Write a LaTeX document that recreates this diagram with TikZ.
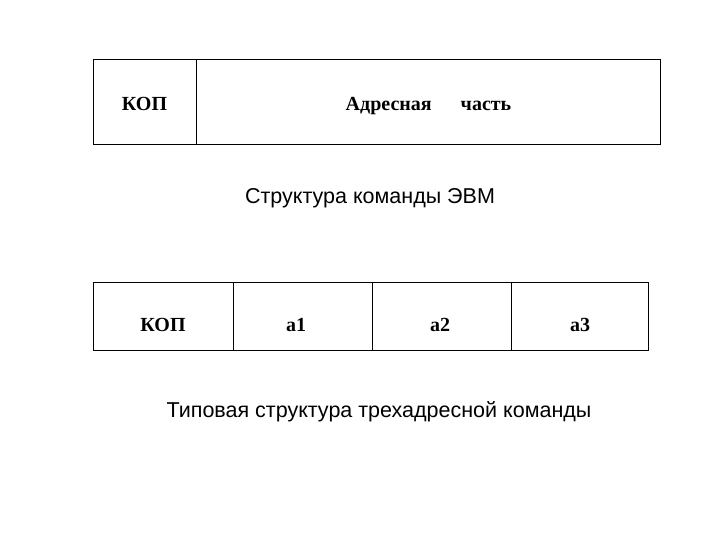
\documentclass[tikz,border=0pt]{standalone}
\usepackage{fontspec}
\setmainfont{Liberation Serif}
\newfontfamily\capfont{Liberation Sans}
\begin{document}
\begin{tikzpicture}[x=1pt,y=-1pt,
  cell/.style={draw=black,line width=1pt,inner sep=0pt,outer sep=0pt},
  lbl/.style={font=\fontsize{20}{24}\selectfont\bfseries,anchor=base,inner sep=0pt},
  captext/.style={font=\capfont\fontsize{21.5}{25}\selectfont,anchor=base,inner sep=0pt}]
\useasboundingbox (0,0) rectangle (720,540);
% top box
\node[cell,minimum width=103pt,minimum height=85pt] (kopA) at (144.5,102.5) {};
\node[cell,minimum width=464pt,minimum height=85pt] (addr) at (428,102.5) {};
\node[lbl] (tkop) at (144.5,111) {КОП};
\node[lbl] (taddr) at (428.5,111) {Адресная\hspace{29pt}часть};
\node[captext] (cap1) at (370,204) {Структура команды ЭВМ};
% bottom box
\node[cell,minimum width=140pt,minimum height=68pt] (kopB) at (163,316) {};
\node[cell,minimum width=139pt,minimum height=68pt] (a1) at (302.5,316) {};
\node[cell,minimum width=139pt,minimum height=68pt] (a2) at (441.5,316) {};
\node[cell,minimum width=137pt,minimum height=68pt] (a3) at (579.5,316) {};
\node[lbl] (tkopB) at (163,331) {КОП};
\node[lbl] (ta1) at (296,331) {а1};
\node[lbl] (ta2) at (440,331) {а2};
\node[lbl] (ta3) at (580,331) {а3};
\node[captext] (cap2) at (379,417) {Типовая структура трехадресной команды};
\end{tikzpicture}
\end{document}
